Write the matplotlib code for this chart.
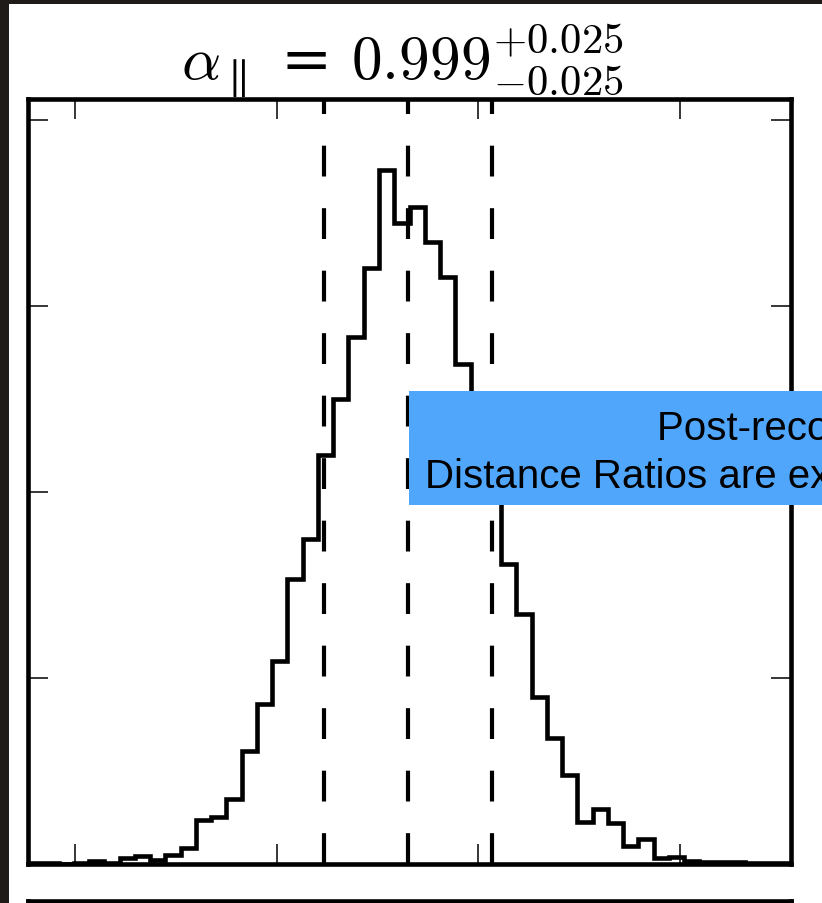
import matplotlib
matplotlib.use("Agg")
import matplotlib.pyplot as plt
import numpy as np
from matplotlib.patches import Rectangle

plt.rcParams["mathtext.fontset"] = "cm"

# histogram of alpha_parallel samples (counts per bin)
bin_lo = 0.8860
bin_hi = 1.1130
counts = [
    1, 1, 0, 1, 6, 1, 15, 20, 9, 24,
    43, 118, 124, 174, 303, 428, 544, 765, 872, 1099,
    1249, 1416, 1602, 1866, 1723, 1766, 1672, 1578, 1344, 1169,
    1002, 806, 670, 447, 337, 237, 112, 147, 109, 48,
    65, 14, 17, 7, 5, 4, 4, 1, 1, 1,
]
quantiles = [0.974, 0.999, 1.024]
x_ticks = [0.90, 0.96, 1.02, 1.08]
y_ticks = [0, 500, 1000, 1500, 2000]
y_top = 2056
titre = r"$\alpha_{\parallel}$ = $0.999^{+0.025}_{-0.025}$"
ligne_1 = "Post-reconstruction BAO"
ligne_2 = "Distance Ratios are extracted"

W, H = 822, 904
fig = plt.figure(figsize=(W / 100, H / 100), dpi=100)

ax = fig.add_axes([28 / W, 1 - 864.5 / H, 763 / W, 764.5 / H])
edges = np.linspace(bin_lo, bin_hi, len(counts) + 1)
ax.stairs(counts, edges, color="black", linewidth=3.3)
for q in quantiles:
    ax.axvline(q, color="black", linewidth=3.0, dashes=(7.4, 7.6))
ax.set_xlim(bin_lo, bin_hi)
ax.set_ylim(0, y_top)
ax.set_xticks(x_ticks)
ax.set_yticks(y_ticks)
ax.set_xticklabels([])
ax.set_yticklabels([])
ax.tick_params(direction="in", length=14.5, width=1.1, top=True, right=True)
for s in ax.spines.values():
    s.set_linewidth(3.3)
ax.set_title(titre, fontsize=44, pad=4, x=0.49)

# next panel of the corner plot, only its top edge shows
ax2 = fig.add_axes([28 / W, -0.2, 763 / W, 0.2 + 2 / H])
ax2.set_xticks([])
ax2.set_yticks([])
for s in ax2.spines.values():
    s.set_linewidth(3.3)

# slide overlay, cut by the screen edge as in the original
fig.patches.append(Rectangle((409 / W, 1 - 506 / H), 1.0, 114 / H, transform=fig.transFigure,
                             facecolor="#50A6FA", edgecolor="none", zorder=5))
fig.text(657 / W, 1 - 440 / H, ligne_1, fontsize=29, family="Liberation Sans",
         va="baseline", ha="left", zorder=6)
fig.text(425 / W, 1 - 488 / H, ligne_2, fontsize=29, family="Liberation Sans",
         va="baseline", ha="left", zorder=6)

# dark screen border
fig.patches.append(Rectangle((0, 0), 8.5 / W, 1, transform=fig.transFigure,
                             facecolor="#1E1B19", edgecolor="none", zorder=7))
fig.patches.append(Rectangle((0, 1 - 4.5 / H), 1, 4.5 / H, transform=fig.transFigure,
                             facecolor="#1E1B19", edgecolor="none", zorder=7))

fig.savefig("out.png", dpi=100)
